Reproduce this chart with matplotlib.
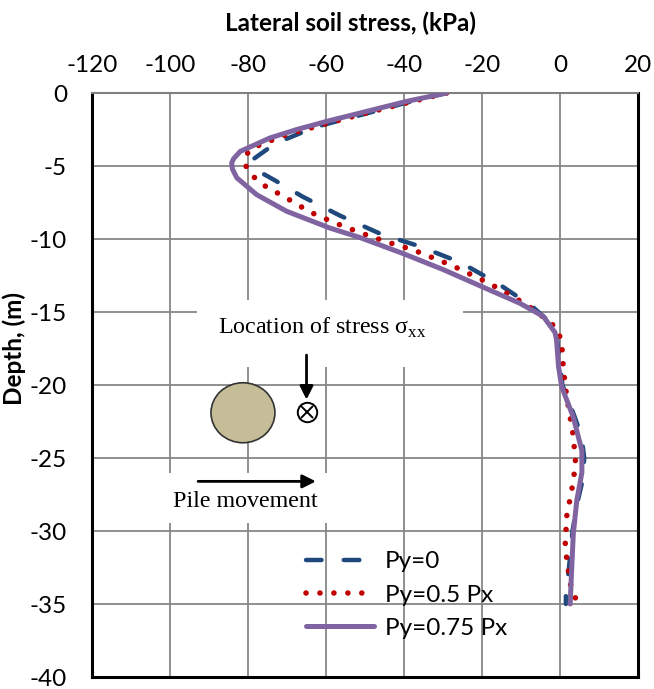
import numpy as np
import matplotlib
matplotlib.use('Agg')
import matplotlib.pyplot as plt
from matplotlib.patches import Ellipse, Rectangle

plt.rcParams['font.family'] = ['Lato', 'DejaVu Sans']
plt.rcParams['axes.unicode_minus'] = False
plt.rcParams['mathtext.fontset'] = 'custom'
plt.rcParams['mathtext.rm'] = 'Liberation Serif'

# Py=0
depth_a = [0, -0.6, -1.5, -2.33, -3.47, -4.6, -5.4, -6.0, -7.1, -8.4, -9.65, -10.5, -11.6,
           -13.0, -14.6, -15.5, -16.5, -18.0, -20.0, -22.0, -23.5, -25.0, -26.5, -28.0,
           -30.0, -32.5, -34.3, -35.0]
stress_a = [-29.1, -38.5, -51.0, -62.8, -73.1, -79.0, -77.0, -73.0, -66.0, -56.4, -46.0,
            -36.0, -25.6, -16.2, -7.2, -3.5, -1.0, -0.2, 0.6, 3.5, 5.5, 6.2, 5.8, 4.5,
            3.2, 2.3, 1.5, 1.5]
# Py=0.5 Px
depth_b = [0, -0.9, -1.6, -2.35, -2.85, -3.54, -4.0, -4.9, -5.66, -6.3, -7.2, -8.15, -8.9,
           -9.6, -10.2, -10.75, -11.8, -13.0, -13.95, -14.9, -16.1, -17.0, -18.9, -20.8,
           -23.5, -25.4, -27.2, -29.0, -31.1, -33.6, -34.7]
stress_b = [-29.1, -42.7, -53.0, -63.3, -70.1, -76.9, -80.0, -80.8, -78.9, -76.1, -70.1,
            -64.1, -57.7, -50.9, -44.4, -37.6, -27.8, -18.4, -12.0, -6.4, -0.85, 0.4,
            0.85, 1.7, 3.4, 4.0, 3.0, 1.7, 1.3, 2.6, 4.1]
# Py=0.75 Px
depth_c = [0, -0.57, -1.94, -2.5, -3.08, -4.0, -4.5, -4.8, -5.2, -5.8, -6.96, -8.1, -9.25,
           -9.9, -11.0, -12.1, -13.3, -14.4, -15.3, -16.4, -16.9, -18.7, -20.1, -22.2,
           -24.5, -26.0, -27.9, -30.2, -32.5, -35.0]
stress_c = [-29.1, -39.3, -59.8, -67.5, -74.4, -82.0, -83.7, -84.2, -84.0, -82.9, -77.8,
            -70.1, -59.0, -51.3, -40.2, -29.9, -19.7, -10.3, -4.3, -1.3, -0.9, -0.4, 0.4,
            3.4, 5.6, 5.6, 4.3, 3.4, 3.0, 2.6]
labels = ['Py=0', 'Py=0.5 Px', 'Py=0.75 Px']

fig = plt.figure(figsize=(6.54, 6.89), dpi=100)
ax = fig.add_axes([0.1407, 0.0174, 0.8349, 0.8476])

ax.plot(stress_a, depth_a, color='#1F497D', lw=3.2, dashes=(3.5, 5),
        dash_capstyle='round', label=labels[0], zorder=3)
ax.plot(stress_b, depth_b, color='#C00000', lw=4, dashes=(0.01, 2.5),
        dash_capstyle='round', label=labels[1], zorder=4)
ax.plot(stress_c, depth_c, color='#8064A2', lw=3.6, solid_capstyle='round',
        solid_joinstyle='round', label=labels[2], zorder=5)

ax.set_xlim(-120, 20); ax.set_ylim(-40, 0)
ax.set_xticks(np.arange(-120, 21, 20)); ax.set_yticks(np.arange(-40, 1, 5))
ax.xaxis.tick_top(); ax.xaxis.set_label_position('top')
ax.tick_params(axis='x', length=0, labelsize=17.5, pad=12)
ax.tick_params(axis='y', length=0, labelsize=17.5, pad=18)
ax.grid(color='#878787', lw=1.3)
ax.set_axisbelow(True)
for s in ['left', 'right', 'bottom']:
    ax.spines[s].set_linewidth(2.2); ax.spines[s].set_color('black')
ax.spines['top'].set_color('#808080'); ax.spines['top'].set_linewidth(1.5)

ax.set_xlabel('Lateral soil stress, (kPa)', fontsize=17.5, fontweight='bold')
ax.xaxis.set_label_coords(0.474, 1.106)
ax.set_ylabel('Depth, (m)', fontsize=17.5, fontweight='bold')
ax.yaxis.set_label_coords(-0.12, 0.562)

# white boxes behind the sketch texts
ax.add_patch(Rectangle((-93.1, -18.77), 68.2, 4.6, fc='white', ec='none', zorder=1))
ax.add_patch(Rectangle((-108, -29.45), 66, 3.45, fc='white', ec='none', zorder=1))

ax.text(-87.7, -16.5, 'Location of stress σ$_{\\mathregular{xx}}$', fontsize=17.3,
        family='Liberation Serif', ha='left', va='baseline', zorder=2)
ax.annotate('', xy=(-65, -21.0), xytext=(-65, -17.95),
            arrowprops=dict(arrowstyle='-|>', color='black', lw=2, mutation_scale=20,
                            shrinkA=0, shrinkB=0), zorder=2)
ax.plot(-65, -21.83, marker='o', ms=14, mfc='white', mec='black', mew=1.4, zorder=2)
ax.plot(-65, -21.83, marker='x', ms=9, mec='black', mew=1.4, zorder=2)
ax.add_patch(Ellipse((-81.3, -21.9), 16.4, 4.11, fc='#C4BD97', ec='#333333', lw=1.2, zorder=2))
ax.annotate('', xy=(-62.6, -26.6), xytext=(-92.8, -26.6),
            arrowprops=dict(arrowstyle='-|>', color='black', lw=2, mutation_scale=20,
                            shrinkA=0, shrinkB=0), zorder=2)
ax.text(-99.2, -28.36, 'Pile movement', fontsize=17.3, family='Liberation Serif',
        ha='left', va='baseline', zorder=2)

ax.legend(loc='upper left', bbox_to_anchor=(0.392, 0.215), frameon=False, fontsize=17.5,
          handlelength=2.8, handletextpad=0.45, labelspacing=0.5, borderpad=0,
          borderaxespad=0)

fig.savefig('out.png', dpi=100)
